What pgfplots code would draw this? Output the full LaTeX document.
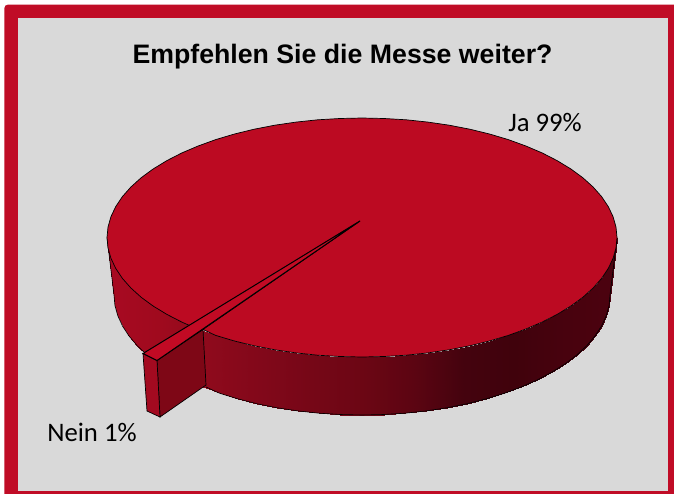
\documentclass[border=0pt]{standalone}
\usepackage{pgfplots}
\pgfplotsset{compat=1.18}
\usepackage{fontspec}
\setmainfont{Liberation Sans}
\newfontfamily\calibri{Carlito}

\definecolor{rahmen}{RGB}{192,12,38}
\definecolor{grund}{RGB}{217,217,217}
\definecolor{deckel}{RGB}{188,10,34}
\definecolor{deckelhell}{RGB}{194,10,36}
\definecolor{front}{RGB}{163,10,32}
\definecolor{seite}{RGB}{126,7,22}

\begin{document}
\begin{tikzpicture}
\begin{axis}[
  scale only axis,
  width=674bp, height=494bp,
  xmin=0, xmax=674,
  ymin=0, ymax=494,
  y dir=reverse,
  hide axis,
  clip=false,
  point meta min=107, point meta max=617,
  colormap={wand}{
    rgb255=(168,10,34)
    rgb255=(160,10,30)
    rgb255=(142,10,28)
    rgb255=(130,8,26)
    rgb255=(118,7,23)
    rgb255=(108,6,20)
    rgb255=(92,5,18)
    rgb255=(68,3,14)
    rgb255=(64,2,12)
    rgb255=(72,2,14)
    rgb255=(76,2,15)
  },
]
% page, frame, plot area
\addplot[draw=none, fill=white] coordinates {(0,0)(674,0)(674,494)(0,494)} -- cycle;
\addplot[draw=none, fill=rahmen] coordinates {(4.4,8)(5.4,5.6)(8,4.6)(674,4.6)(674,494)(4.4,494)} -- cycle;
\addplot[draw=none, fill=grund] coordinates {(17.7,17.7)(668.3,17.7)(668.3,490.7)(17.7,490.7)} -- cycle;

% side wall, strips between top rim and base rim
\addplot[patch, patch type=rectangle, shader=interp, point meta=x] coordinates {
(617,237.5)(610,295)(609.1,305.5)(616,247.9)
(616,247.9)(609.1,305.5)(606.2,315.8)(613.1,258.2)
(613.1,258.2)(606.2,315.8)(601.5,326.1)(608.3,268.4)
(608.3,268.4)(601.5,326.1)(595,336)(601.6,278.4)
(601.6,278.4)(595,336)(586.8,345.7)(593.1,288)
(593.1,288)(586.8,345.7)(576.8,355)(582.8,297.3)
(582.8,297.3)(576.8,355)(565.2,363.8)(570.9,306)
(570.9,306)(565.2,363.8)(552,372.1)(557.3,314.3)
(557.3,314.3)(552,372.1)(537.4,379.9)(542.3,322)
(542.3,322)(537.4,379.9)(521.4,386.9)(525.9,329)
(525.9,329)(521.4,386.9)(504.3,393.3)(508.3,335.4)
(508.3,335.4)(504.3,393.3)(486,398.9)(489.5,341)
(489.5,341)(486,398.9)(466.8,403.8)(469.8,345.8)
(469.8,345.8)(466.8,403.8)(446.8,407.8)(449.2,349.8)
(449.2,349.8)(446.8,407.8)(426.2,410.9)(428,352.9)
(428,352.9)(426.2,410.9)(405.1,413.2)(406.3,355.2)
(406.3,355.2)(405.1,413.2)(383.6,414.5)(384.2,356.5)
(384.2,356.5)(383.6,414.5)(362,415)(362,357)
(362,357)(362,415)(340.4,414.5)(339.8,356.5)
(339.8,356.5)(340.4,414.5)(318.9,413.2)(317.7,355.2)
(317.7,355.2)(318.9,413.2)(297.8,410.9)(296,352.9)
(296,352.9)(297.8,410.9)(277.2,407.8)(274.8,349.8)
(274.8,349.8)(277.2,407.8)(257.2,403.8)(254.2,345.8)
(254.2,345.8)(257.2,403.8)(238,398.9)(234.5,341)
(234.5,341)(238,398.9)(219.7,393.3)(215.7,335.4)
(215.7,335.4)(219.7,393.3)(202.6,386.9)(198.1,329)
(198.1,329)(202.6,386.9)(186.6,379.9)(181.7,322)
(181.7,322)(186.6,379.9)(172,372.1)(166.7,314.3)
(166.7,314.3)(172,372.1)(158.8,363.8)(153.1,306)
(153.1,306)(158.8,363.8)(147.2,355)(141.2,297.3)
(141.2,297.3)(147.2,355)(137.2,345.7)(130.9,288)
(130.9,288)(137.2,345.7)(129,336)(122.4,278.4)
(122.4,278.4)(129,336)(122.5,326.1)(115.7,268.4)
(115.7,268.4)(122.5,326.1)(117.8,315.8)(110.9,258.2)
(110.9,258.2)(117.8,315.8)(114.9,305.5)(108,247.9)
(108,247.9)(114.9,305.5)(114,295)(107,237.5)
};

% base outline
\addplot[black, line width=0.6bp] coordinates {
(617,237.5)(610,295)(609.1,305.5)(606.2,315.8)(601.5,326.1)(595,336)(586.8,345.7)
(576.8,355)(565.2,363.8)(552,372.1)(537.4,379.9)(521.4,386.9)(504.3,393.3)(486,398.9)
(466.8,403.8)(446.8,407.8)(426.2,410.9)(405.1,413.2)(383.6,414.5)(362,415)(340.4,414.5)
(318.9,413.2)(297.8,410.9)(277.2,407.8)(257.2,403.8)(238,398.9)(219.7,393.3)(206,387)
};
\addplot[black, line width=0.6bp] coordinates {
(147.2,355)(137.2,345.7)(129,336)(122.5,326.1)(117.8,315.8)(114.9,305.5)(114,295)(107,237.5)
};

% top face with the notch of the small slice
\addplot[draw=black, line width=0.7bp, fill=deckel] coordinates {
(203,329.5)(215.7,335.4)(234.5,341)(254.2,345.8)(274.8,349.8)(296,352.9)(317.7,355.2)(339.8,356.5)
(362,357)(384.2,356.5)(406.3,355.2)(428,352.9)(449.2,349.8)(469.8,345.8)(489.5,341)(508.3,335.4)
(525.9,329)(542.3,322)(557.3,314.3)(570.9,306)(582.8,297.3)(593.1,288)(601.6,278.4)(608.3,268.4)
(613.1,258.2)(616,247.9)(617,237.5)
(616,227.1)(613.1,216.8)(608.3,206.6)(601.6,196.6)(593.1,187)(582.8,177.7)(570.9,169)(557.3,160.7)
(542.3,153)(525.9,146)(508.3,139.6)(489.5,134)(469.8,129.2)(449.2,125.2)(428,122.1)(406.3,119.8)
(384.2,118.5)(362,118)(339.8,118.5)(317.7,119.8)(296,122.1)(274.8,125.2)(254.2,129.2)(234.5,134)
(215.7,139.6)(198.1,146)(181.7,153)(166.7,160.7)(153.1,169)(141.2,177.7)(130.9,187)(122.4,196.6)
(115.7,206.6)(110.9,216.8)(108,227.1)(107,237.5)
(108,247.9)(110.9,258.2)(115.7,268.4)(122.4,278.4)(130.9,288)(141.2,297.3)(153.1,306)(166.7,314.3)
(181.7,322)(190,325.7)(360,221)
} -- cycle;

% the 1% slice, pulled out
\addplot[draw=black, line width=0.7bp, fill=seite] coordinates {(157,360.5)(203,329.5)(206,385)(160,417)} -- cycle;
\addplot[draw=black, line width=0.7bp, fill=front] coordinates {(143,353.5)(157,360.5)(160,417)(147,411)} -- cycle;
\addplot[draw=black, line width=1bp, fill=deckelhell] coordinates {(360,221)(143,353.5)(157,360.5)} -- cycle;

\node[font=\fontsize{26.8}{28}\selectfont\bfseries, anchor=center] at (axis cs:342.5,57) {Empfehlen Sie die Messe weiter?};
\node[font=\calibri\fontsize{26.8}{28}\selectfont, anchor=center] at (axis cs:545,123) {Ja 99\%};
\node[font=\calibri\fontsize{26.8}{28}\selectfont, anchor=center] at (axis cs:92,432) {Nein 1\%};
\end{axis}
\end{tikzpicture}
\end{document}
